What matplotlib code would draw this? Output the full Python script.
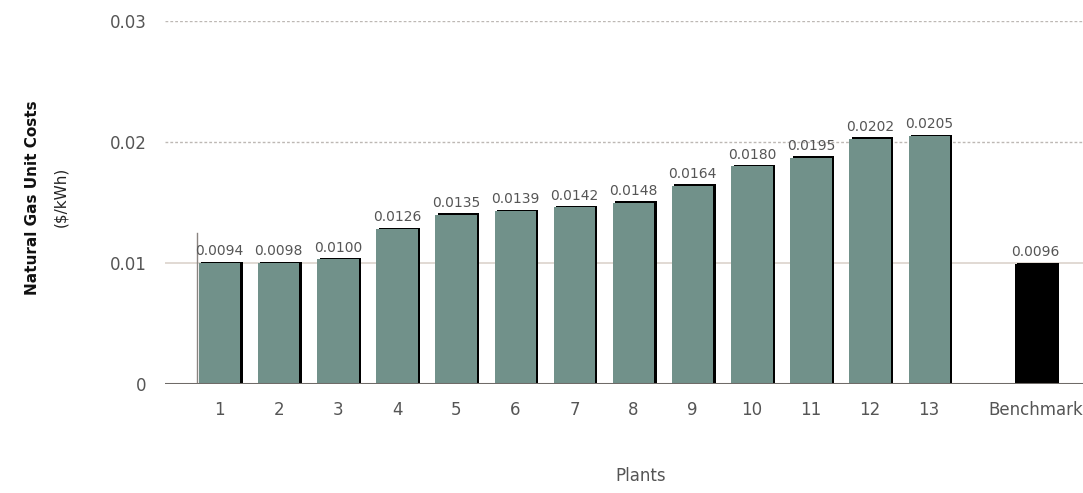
import numpy as np
import matplotlib
matplotlib.use("Agg")
import matplotlib.pyplot as plt

BAR = '#71918A'
GRAY = '#555555'
LIGHT = '#BDB8B4'

plants = ['1', '2', '3', '4', '5', '6', '7', '8', '9', '10', '11', '12', '13', 'Benchmark']
heights = [0.0100, 0.0100, 0.0103, 0.0128, 0.0140, 0.0143, 0.0146, 0.0150,
           0.0164, 0.0180, 0.0187, 0.0203, 0.0205, 0.0099]
value_labels = ['0.0094', '0.0098', '0.0100', '0.0126', '0.0135', '0.0139', '0.0142',
                '0.0148', '0.0164', '0.0180', '0.0195', '0.0202', '0.0205', '0.0096']

plt.rcParams['font.family'] = ['DejaVu Sans']

fig = plt.figure(figsize=(10.83, 4.93), dpi=100)
ax = fig.add_axes([0.152, 0.221, 0.848, 0.736])

x = np.append(np.arange(13), 13.8)
colors = [BAR] * 13 + ['black']

# shadow behind each bar (top and right edge)
ax.bar(x + 0.04, np.array(heights) + 0.00012, width=0.70, color='black', zorder=2)
ax.bar(x, heights, width=0.70, color=colors, zorder=3)

for xi, h, lab in zip(x, heights, value_labels):
    ax.text(xi, h + 0.0004, lab, ha='center', va='bottom', fontsize=10, color=GRAY)

ax.set_xlim(-0.93, 14.6)
ax.set_ylim(0, 0.03)
ax.set_yticks([0, 0.01, 0.02, 0.03])
ax.set_yticklabels(['0', '0.01', '0.02', '0.03'])
ax.set_xticks(x)
ax.set_xticklabels(plants)
ax.tick_params(axis='both', length=0, labelsize=12, colors=GRAY)
ax.tick_params(axis='y', pad=13)
ax.tick_params(axis='x', pad=12)

for s in ['top', 'right', 'left', 'bottom']:
    ax.spines[s].set_visible(False)

ax.axhline(0.03, color=LIGHT, lw=1, ls=(0, (2, 1.5)), zorder=1)
ax.axhline(0.02, color=LIGHT, lw=1, ls=(0, (2, 1.5)), zorder=1)
ax.axhline(0.01, color='#DCD3CC', lw=1.2, zorder=1)
ax.axhline(0, color='#6F6B68', lw=2.2, zorder=4)
ax.plot([-0.39, -0.39], [0, 0.0125], color='#8A8480', lw=1, zorder=1)

fig.text(0.030, 0.60, 'Natural Gas Unit Costs', rotation=90, ha='center', va='center',
         fontsize=11, fontweight='bold', color='#111111')
fig.text(0.056, 0.60, '($/kWh)', rotation=90, ha='center', va='center',
         fontsize=11, color='#222222')
fig.text(0.592, 0.035, 'Plants', ha='center', va='center', fontsize=12, color=GRAY)

fig.savefig('out.png', dpi=100)
